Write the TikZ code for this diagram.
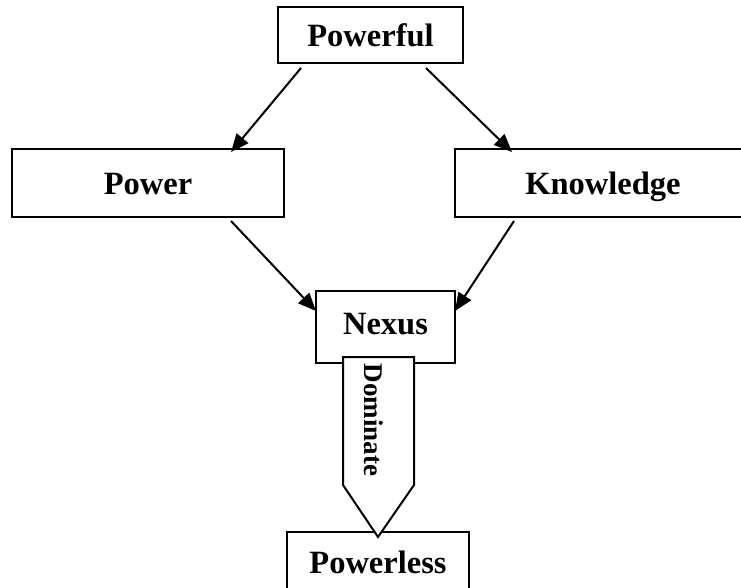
\documentclass[tikz,border=0pt]{standalone}
\usepackage{fontspec}
\setmainfont{Liberation Serif}
\usetikzlibrary{arrows.meta,calc}
\begin{document}
\begin{tikzpicture}[x=1pt,y=-1pt,
  box/.style={draw,line width=2pt,rectangle,inner sep=0pt,fill=white,
    text height=26pt,text depth=3pt,
    font=\fontsize{32.5}{37}\selectfont\bfseries},
  arr/.style={line width=2pt,-{Triangle[length=18pt,width=15pt]}},
  ]
\useasboundingbox (0,0) rectangle (741,588);
\clip (0,0) rectangle (741,588);
% boxes
\node[box,minimum width=185pt,minimum height=56pt] (pf) at (370.5,35) {Powerful};
\node[box,minimum width=272pt,minimum height=68pt] (pw) at (148,183) {Power};
\node[box,minimum width=296pt,minimum height=68pt] (kn) at (603,183) {Knowledge};
\node[box,minimum width=139pt,minimum height=72pt,text height=22pt,text depth=7pt] (nx) at (385.5,327) {Nexus};
\node[box,minimum width=182pt,minimum height=64pt,text height=24pt,text depth=5pt] (pl) at (378,564) {Powerless};
% connectors
\draw[arr] ([xshift=24pt,yshift=-4pt]pf.south west) -- ([xshift=220pt,yshift=-4pt]pw.north west);
\draw[arr] ([xshift=149pt,yshift=-4pt]pf.south west) -- ([xshift=58pt,yshift=-4pt]kn.north west);
\draw[arr] ([xshift=220pt,yshift=-3pt]pw.south west) -- ([xshift=1pt,yshift=-21pt]nx.north west);
\draw[arr] ([xshift=60pt,yshift=-3pt]kn.south west) -- ([xshift=-1pt,yshift=-21pt]nx.north east);
% Dominate block arrow
\coordinate (dtip) at ([yshift=-6pt]pl.north);
\draw[line width=2pt,fill=white,line join=miter]
  ([xshift=-42.5pt,yshift=7pt]nx.south) -- ([xshift=28.5pt,yshift=7pt]nx.south)
  -- (414,485) -- (dtip) -- (343,485) -- cycle;
\node[font=\fontsize{27}{31}\selectfont\bfseries,rotate=-90,inner sep=0pt] (dm) at (374,420) {Dominate};
\end{tikzpicture}
\end{document}
